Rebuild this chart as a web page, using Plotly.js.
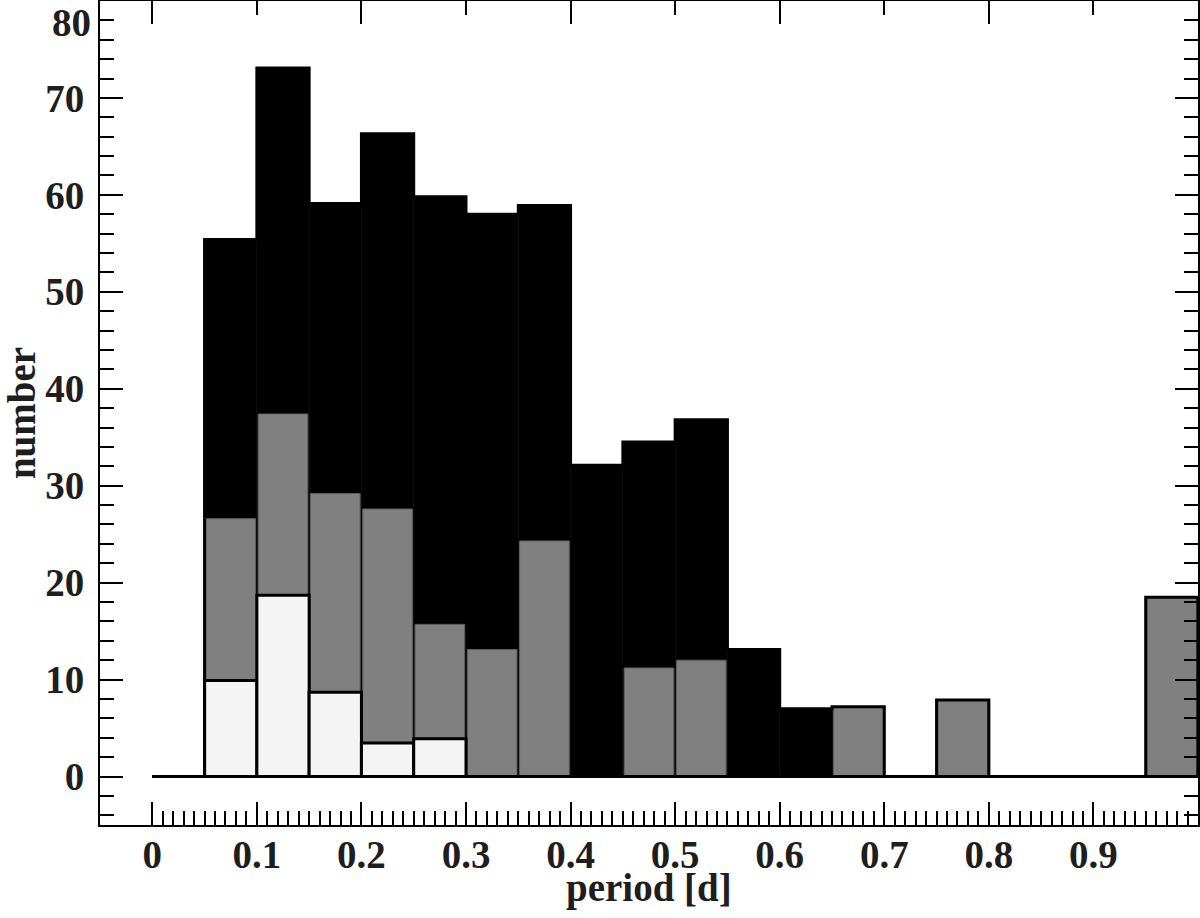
<!DOCTYPE html>
<html>
<head>
<meta charset="utf-8">
<script src="https://cdn.plot.ly/plotly-3.0.1.min.js"></script>
<style>html,body{margin:0;padding:0;background:#fff;}#chart{width:1200px;height:918px;}</style>
</head>
<body>
<div id="chart"></div>
<script>
// Bin left edges of the period histogram (bin width 0.05 d)
const binLeft = [0.00, 0.05, 0.10, 0.15, 0.20, 0.25, 0.30, 0.35, 0.40, 0.45,
                 0.50, 0.55, 0.60, 0.65, 0.70, 0.75, 0.80, 0.85, 0.90, 0.95];
const binWidth = 0.05;
// Total counts (black)
const totalCounts = [0, 55.4, 73.1, 59.1, 66.3, 59.8, 58.0, 58.9, 32.1, 34.5,
                     36.8, 13.1, 7.0, 7.2, 0, 7.9, 0, 0, 0, 18.5];
// Subset counts (grey)
const greyCounts  = [0, 26.6, 37.4, 29.2, 27.6, 15.7, 13.1, 24.3, 0, 11.2,
                     12.0, 0, 0, 7.2, 0, 7.9, 0, 0, 0, 18.5];
// Subset counts (light)
const lightCounts = [0, 9.9, 18.7, 8.7, 3.45, 3.9, 0, 0, 0, 0,
                     0, 0, 0, 0, 0, 0, 0, 0, 0, 0];
// Axis tick labels
const xTickVals = [0, 0.1, 0.2, 0.3, 0.4, 0.5, 0.6, 0.7, 0.8, 0.9];
const xTickText = ['0', '0.1', '0.2', '0.3', '0.4', '0.5', '0.6', '0.7', '0.8', '0.9'];
const yTickVals = [0, 10, 20, 30, 40, 50, 60, 70, 80];
const yTickText = ['0', '10', '20', '30', '40', '50', '60', '70', ''];
const yTopLabel = '80';
const xTitle = 'period [d]';
const yTitle = 'number';

const FONT = {family: 'Liberation Serif, Times New Roman, serif', size: 39, color: '#1e1e1e', weight: 'bold'};
const lastEdge = binLeft[binLeft.length - 1] + binWidth;

const nz = arr => arr.map(v => (v === 0 ? null : v));

// minor ticks on bottom axis (every 0.01 from 0 to 1)
const xMinor = [];
for (let i = 1; i < 100; i++) { if (i % 10 !== 0) xMinor.push(i / 100); }

const traces = [
  {type: 'bar', x: binLeft, y: totalCounts, width: binWidth, offset: 0,
   marker: {color: '#000000', line: {color: '#000000', width: 0.6}}},
  {type: 'bar', x: binLeft, y: nz(greyCounts), width: binWidth * 0.95, offset: binWidth * 0.025,
   marker: {color: '#808080', line: {color: '#5e5e5e', width: 1}}},
  {type: 'scatter', mode: 'lines', x: binLeft.concat([lastEdge]), y: totalCounts.concat([0]),
   line: {shape: 'hv', color: '#000000', width: 3}},
  {type: 'scatter', mode: 'lines', x: [binLeft[0], lastEdge], y: [0, 0], xaxis: 'x2',
   line: {color: '#000000', width: 3}},
  {type: 'bar', x: binLeft, y: nz(lightCounts), width: binWidth, offset: 0,
   marker: {color: '#f4f4f4', line: {color: '#000000', width: 3}}}
];

const layout = {
  width: 1200, height: 918,
  margin: {l: 100, r: 2, t: 1, b: 93},
  paper_bgcolor: '#ffffff', plot_bgcolor: '#ffffff',
  showlegend: false, barmode: 'overlay', bargap: 0,
  font: FONT,
  xaxis: {
    range: [-0.05, 1.0], showgrid: false, zeroline: false,
    showline: true, linecolor: '#000', linewidth: 2,
    ticks: 'inside', ticklen: 23, tickwidth: 2, tickcolor: '#000',
    tickmode: 'array', tickvals: xTickVals, ticktext: xTickText,
    tickfont: FONT, ticklabelstandoff: -6,
    minor: {tickmode: 'array', tickvals: xMinor, ticks: 'inside', ticklen: 14, tickwidth: 2, tickcolor: '#000', showgrid: false}
  },
  xaxis2: {
    overlaying: 'x', side: 'top', range: [-0.05, 1.0], showgrid: false, zeroline: false,
    showline: true, linecolor: '#000', linewidth: 2,
    ticks: 'inside', ticklen: 23, tickwidth: 2, tickcolor: '#000',
    tick0: 0, dtick: 0.2, showticklabels: false,
    minor: {dtick: 0.1, tick0: 0, ticks: 'inside', ticklen: 14, tickwidth: 2, tickcolor: '#000', showgrid: false}
  },
  yaxis: {
    range: [-5, 80], showgrid: false, zeroline: false,
    showline: true, linecolor: '#000', linewidth: 2, mirror: 'ticks',
    ticks: 'inside', ticklen: 23, tickwidth: 2, tickcolor: '#000',
    tickmode: 'array', tickvals: yTickVals, ticktext: yTickText,
    tickfont: FONT, ticklabelstandoff: 6,
    minor: {dtick: 2, tick0: 0, ticks: 'inside', ticklen: 14, tickwidth: 2, tickcolor: '#000', showgrid: false},
    title: {text: yTitle, font: FONT, standoff: 4}
  },
  annotations: [
    {text: yTopLabel, xref: 'paper', yref: 'y', x: 0, y: yTickVals[yTickVals.length - 1],
     xanchor: 'right', yanchor: 'middle', xshift: -7, yshift: -21, showarrow: false, font: FONT},
    {text: xTitle, xref: 'paper', yref: 'paper', x: 0.5, y: 0,
     xanchor: 'center', yanchor: 'middle', yshift: -63, showarrow: false, font: FONT}
  ]
};

Plotly.newPlot('chart', traces, layout, {staticPlot: true, displayModeBar: false});
</script>
</body>
</html>
